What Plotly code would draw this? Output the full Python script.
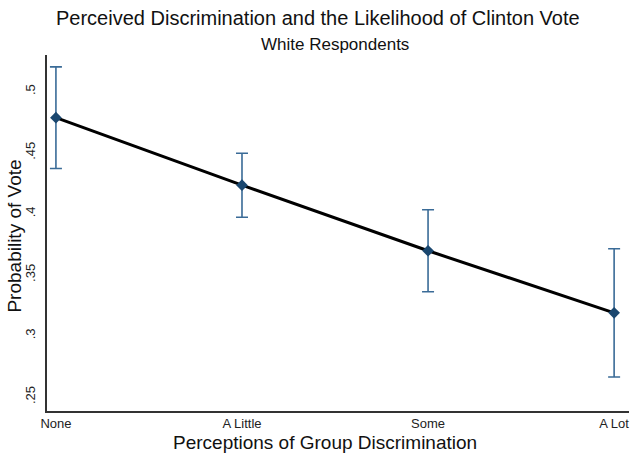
import plotly.graph_objects as go

categories = ["None", "A Little", "Some", "A Lot"]
probability = [0.4787, 0.4234, 0.3697, 0.3189]
ci_half = [0.0416, 0.0262, 0.0336, 0.0525]
y_ticks = [0.25, 0.3, 0.35, 0.4, 0.45, 0.5]
y_tick_labels = [".25", ".3", ".35", ".4", ".45", ".5"]

navy = "#1a476f"
font_family = "Liberation Sans, Arial, sans-serif"

x_idx = list(range(len(categories)))

fig = go.Figure()
fig.add_trace(go.Scatter(
    x=x_idx, y=probability, mode="lines",
    line=dict(color="black", width=3), showlegend=False, hoverinfo="skip"))
fig.add_trace(go.Scatter(
    x=x_idx, y=probability, mode="markers",
    marker=dict(symbol="diamond", size=9, color=navy),
    error_y=dict(type="data", array=ci_half, visible=True,
                 color="#3a6b97", thickness=1.6, width=6),
    showlegend=False))

fig.update_layout(
    width=635, height=453,
    margin=dict(l=47, r=6, t=55, b=42),
    paper_bgcolor="white", plot_bgcolor="white",
    font=dict(family=font_family, color="black"),
    xaxis=dict(
        range=[-0.048, 3.08], tickmode="array", tickvals=x_idx,
        ticktext=categories, showgrid=False, zeroline=False,
        showline=True, linecolor="#333333", linewidth=1.5,
        ticks="", tickfont=dict(size=13, color="#222222"),
        ticklabelstandoff=0),
    yaxis=dict(
        range=[0.2385, 0.530], tickmode="array", tickvals=y_ticks,
        ticktext=y_tick_labels, tickangle=-90, showgrid=False,
        zeroline=False, showline=True, linecolor="#333333", linewidth=1.5,
        ticks="", tickfont=dict(size=13, color="#222222"),
        ticklabelstandoff=5),
    annotations=[
        dict(text="Perceived Discrimination and the Likelihood of Clinton Vote",
             xref="paper", yref="paper", x=0.466, y=1, yshift=37,
             xanchor="center", yanchor="middle", showarrow=False,
             font=dict(size=20, color="#111111")),
        dict(text="White Respondents",
             xref="paper", yref="paper", x=0.495, y=1, yshift=11,
             xanchor="center", yanchor="middle", showarrow=False,
             font=dict(size=17, color="#111111")),
        dict(text="Perceptions of Group Discrimination",
             xref="paper", yref="paper", x=0.478, y=0, yshift=-31,
             xanchor="center", yanchor="middle", showarrow=False,
             font=dict(size=19, color="#111111")),
        dict(text="Probability of Vote",
             xref="paper", yref="paper", x=0, xshift=-32, y=0.49,
             xanchor="center", yanchor="middle", textangle=-90,
             showarrow=False, font=dict(size=19, color="#111111")),
    ],
)

fig.write_html("out.html")
